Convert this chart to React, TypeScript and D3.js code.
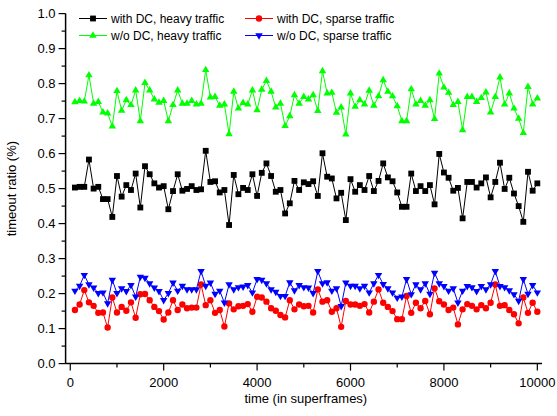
import React from 'react';
import * as d3 from 'd3';

// sample times (superframes)
const times = d3.range(100, 10001, 100);

const withDcHeavy = [
  0.503, 0.505, 0.505, 0.583, 0.500, 0.505, 0.470, 0.470, 0.419, 0.536,
  0.477, 0.510, 0.496, 0.543, 0.446, 0.564, 0.541, 0.515, 0.503, 0.507,
  0.441, 0.493, 0.541, 0.494, 0.499, 0.507, 0.496, 0.498, 0.608, 0.519,
  0.521, 0.489, 0.496, 0.396, 0.539, 0.484, 0.502, 0.496, 0.541, 0.479,
  0.545, 0.572, 0.536, 0.491, 0.496, 0.429, 0.458, 0.522, 0.496, 0.518,
  0.513, 0.521, 0.479, 0.601, 0.534, 0.529, 0.472, 0.488, 0.410, 0.527,
  0.491, 0.510, 0.496, 0.536, 0.493, 0.522, 0.572, 0.532, 0.521, 0.489,
  0.448, 0.448, 0.543, 0.493, 0.507, 0.493, 0.510, 0.455, 0.599, 0.546,
  0.531, 0.494, 0.502, 0.415, 0.519, 0.519, 0.503, 0.515, 0.532, 0.475,
  0.519, 0.574, 0.499, 0.531, 0.486, 0.450, 0.405, 0.548, 0.494, 0.515,
];

const withDcSparse = [
  0.153, 0.169, 0.210, 0.175, 0.165, 0.145, 0.146, 0.103, 0.189, 0.146,
  0.162, 0.151, 0.175, 0.131, 0.198, 0.199, 0.181, 0.162, 0.150, 0.126,
  0.146, 0.181, 0.153, 0.169, 0.158, 0.160, 0.160, 0.226, 0.167, 0.181,
  0.145, 0.153, 0.106, 0.172, 0.155, 0.164, 0.165, 0.170, 0.148, 0.191,
  0.189, 0.177, 0.158, 0.151, 0.139, 0.132, 0.181, 0.155, 0.169, 0.164,
  0.165, 0.146, 0.212, 0.177, 0.181, 0.148, 0.158, 0.105, 0.179, 0.169,
  0.169, 0.165, 0.170, 0.146, 0.177, 0.212, 0.174, 0.162, 0.150, 0.127,
  0.127, 0.193, 0.145, 0.174, 0.158, 0.179, 0.141, 0.215, 0.178, 0.169,
  0.153, 0.160, 0.112, 0.155, 0.170, 0.165, 0.155, 0.167, 0.158, 0.174,
  0.226, 0.165, 0.167, 0.153, 0.141, 0.115, 0.189, 0.145, 0.174, 0.148,
];

const woDcHeavy = [
  0.747, 0.751, 0.749, 0.824, 0.743, 0.748, 0.718, 0.715, 0.678, 0.779,
  0.723, 0.753, 0.739, 0.781, 0.693, 0.802, 0.781, 0.755, 0.746, 0.751,
  0.693, 0.739, 0.781, 0.743, 0.743, 0.751, 0.741, 0.743, 0.839, 0.761,
  0.762, 0.737, 0.741, 0.656, 0.777, 0.729, 0.745, 0.741, 0.781, 0.724,
  0.783, 0.808, 0.777, 0.732, 0.743, 0.679, 0.707, 0.767, 0.743, 0.762,
  0.755, 0.767, 0.722, 0.836, 0.772, 0.774, 0.717, 0.732, 0.655, 0.772,
  0.734, 0.753, 0.741, 0.780, 0.737, 0.764, 0.810, 0.777, 0.764, 0.736,
  0.693, 0.693, 0.784, 0.741, 0.751, 0.737, 0.753, 0.699, 0.829, 0.789,
  0.774, 0.739, 0.748, 0.667, 0.762, 0.762, 0.748, 0.759, 0.775, 0.718,
  0.762, 0.818, 0.741, 0.772, 0.729, 0.700, 0.659, 0.791, 0.741, 0.758,
];

const woDcSparse = [
  0.208, 0.222, 0.253, 0.226, 0.217, 0.201, 0.203, 0.172, 0.239, 0.201,
  0.215, 0.207, 0.224, 0.191, 0.248, 0.245, 0.229, 0.217, 0.207, 0.181,
  0.201, 0.231, 0.208, 0.222, 0.212, 0.212, 0.212, 0.264, 0.222, 0.231,
  0.199, 0.208, 0.174, 0.226, 0.212, 0.218, 0.220, 0.224, 0.203, 0.241,
  0.239, 0.229, 0.212, 0.205, 0.193, 0.193, 0.232, 0.209, 0.224, 0.218,
  0.217, 0.201, 0.264, 0.229, 0.232, 0.208, 0.215, 0.164, 0.231, 0.222,
  0.222, 0.215, 0.222, 0.203, 0.229, 0.253, 0.227, 0.215, 0.203, 0.188,
  0.191, 0.241, 0.198, 0.226, 0.212, 0.229, 0.199, 0.259, 0.229, 0.221,
  0.208, 0.215, 0.174, 0.208, 0.221, 0.218, 0.207, 0.221, 0.212, 0.226,
  0.264, 0.221, 0.218, 0.209, 0.198, 0.179, 0.241, 0.199, 0.224, 0.203,
];

const xTicks = [0, 2000, 4000, 6000, 8000, 10000];
const xMinorTicks = [1000, 3000, 5000, 7000, 9000];
const yTicks = [0, 0.1, 0.2, 0.3, 0.4, 0.5, 0.6, 0.7, 0.8, 0.9, 1.0];
const yMinorTicks = [0.05, 0.15, 0.25, 0.35, 0.45, 0.55, 0.65, 0.75, 0.85, 0.95];

const seriesList = [
  { name: 'with DC, heavy traffic', values: withDcHeavy, color: '#000000', symbol: d3.symbolSquare, size: 34, rotate: 0 },
  { name: 'with DC, sparse traffic', values: withDcSparse, color: '#ff0000', symbol: d3.symbolCircle, size: 32, rotate: 0 },
  { name: 'w/o DC, heavy traffic', values: woDcHeavy, color: '#00ff00', symbol: d3.symbolTriangle, size: 24, rotate: 0 },
  { name: 'w/o DC, sparse traffic', values: woDcSparse, color: '#0000ff', symbol: d3.symbolTriangle, size: 24, rotate: 180 },
];

const width = 557;
const height = 416;
const font = '"Liberation Sans", Arial, sans-serif';

const x = d3.scaleLinear().domain([-100, 10100]).range([65.6, 542]);
const y = d3.scaleLinear().domain([0, 1]).range([363.6, 13.6]);

const line = d3.line<number>()
  .x((_, i) => x(times[i]))
  .y(d => y(d));

const Marker = ({ s, cx, cy }) => (
  <path
    d={d3.symbol(s.symbol, s.size)() as string}
    transform={`translate(${cx},${cy}) rotate(${s.rotate})`}
    fill={s.color}
  />
);

// legend slots: [lineStart, textX, rowY]
const legendPos = [
  { x0: 79, y0: 18.5 },
  { x0: 245, y0: 18.5 },
  { x0: 79, y0: 35.5 },
  { x0: 245, y0: 35.5 },
];

export default function App() {
  const axisY = y(0);
  const axisX = x(-100);
  return (
    <>
      <style>{`body { margin: 0; background: #fff; }`}</style>
      <svg width={width} height={height} style={{ display: 'block', fontFamily: font }}>
        <rect width={width} height={height} fill="#fff" />

        {/* series */}
        {seriesList.map(s => (
          <g key={s.name}>
            <path d={line(s.values) as string} fill="none" stroke={s.color} strokeWidth={1} />
            {s.values.map((v, i) => (
              <Marker key={i} s={s} cx={x(times[i])} cy={y(v)} />
            ))}
          </g>
        ))}

        {/* y axis */}
        <line x1={axisX} x2={axisX} y1={y(1)} y2={axisY} stroke="#000" strokeWidth={1.5} />
        {yTicks.map(t => (
          <g key={t}>
            <line x1={axisX - 7} x2={axisX} y1={y(t)} y2={y(t)} stroke="#000" strokeWidth={1.2} />
            <text x={axisX - 10} y={y(t)} dy="0.35em" textAnchor="end" fontSize={13}>
              {d3.format('.1f')(t)}
            </text>
          </g>
        ))}
        {yMinorTicks.map(t => (
          <line key={t} x1={axisX - 4} x2={axisX} y1={y(t)} y2={y(t)} stroke="#000" strokeWidth={1.2} />
        ))}

        {/* x axis */}
        <line x1={axisX} x2={x(10100)} y1={axisY} y2={axisY} stroke="#000" strokeWidth={1.5} />
        {xTicks.map(t => (
          <g key={t}>
            <line x1={x(t)} x2={x(t)} y1={axisY} y2={axisY + 7} stroke="#000" strokeWidth={1.2} />
            <text x={x(t)} y={axisY + 19} dy="0.35em" textAnchor="middle" fontSize={13}>
              {t}
            </text>
          </g>
        ))}
        {xMinorTicks.map(t => (
          <line key={t} x1={x(t)} x2={x(t)} y1={axisY} y2={axisY + 4} stroke="#000" strokeWidth={1.2} />
        ))}

        {/* axis titles */}
        <text x={(axisX + x(10100)) / 2 + 2} y={403} textAnchor="middle" fontSize={13}>
          time (in superframes)
        </text>
        <text
          transform={`translate(16,${(y(0) + y(1)) / 2}) rotate(-90)`}
          textAnchor="middle"
          fontSize={13}
        >
          timeout ratio (%)
        </text>

        {/* legend */}
        {seriesList.map((s, i) => {
          const p = legendPos[i];
          return (
            <g key={s.name}>
              <line x1={p.x0} x2={p.x0 + 28} y1={p.y0} y2={p.y0} stroke={s.color} strokeWidth={1} />
              <Marker s={s} cx={p.x0 + 14} cy={p.y0} />
              <text x={p.x0 + 32} y={p.y0} dy="0.35em" fontSize={12}>
                {s.name}
              </text>
            </g>
          );
        })}
      </svg>
    </>
  );
}
